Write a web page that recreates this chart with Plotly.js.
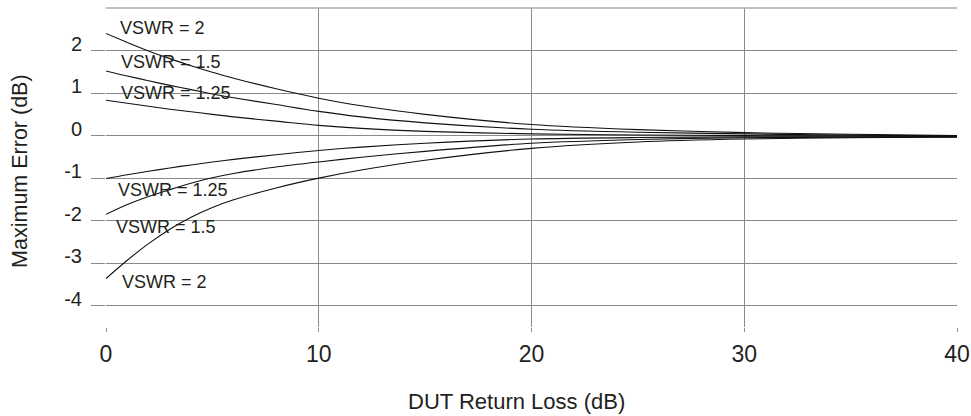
<!DOCTYPE html>
<html>
<head>
<meta charset="utf-8">
<script src="https://cdn.plot.ly/plotly-3.0.1.min.js"></script>
<style>
  html, body { margin: 0; padding: 0; background: #ffffff; }
  #chart { width: 971px; height: 416px; }
</style>
</head>
<body>
<div id="chart"></div>
<script>
// DUT return loss (dB)
const returnLoss = [0, 1, 2, 3, 4, 5, 6, 8, 10, 12, 15, 20, 25, 30, 35, 40];

// Maximum error (dB)
const vswr2Upper    = [2.40, 2.19, 1.99, 1.81, 1.64, 1.49, 1.35, 1.10, 0.88, 0.70, 0.50, 0.26, 0.14, 0.07, 0.03, 0.00];
const vswr15Upper   = [1.52, 1.40, 1.29, 1.18, 1.08, 0.98, 0.89, 0.73, 0.57, 0.44, 0.30, 0.15, 0.08, 0.04, 0.01, -0.01];
const vswr125Upper  = [0.83, 0.76, 0.69, 0.62, 0.56, 0.50, 0.44, 0.34, 0.24, 0.17, 0.10, 0.04, 0.015, 0.00, -0.01, -0.02];
const vswr125Lower  = [-1.01, -0.92, -0.84, -0.76, -0.69, -0.62, -0.56, -0.45, -0.35, -0.27, -0.18, -0.08, -0.045, -0.03, -0.03, -0.03];
const vswr15Lower   = [-1.85, -1.62, -1.43, -1.27, -1.12, -0.99, -0.89, -0.74, -0.62, -0.51, -0.37, -0.18, -0.09, -0.05, -0.04, -0.03];
const vswr2Lower    = [-3.36, -2.93, -2.54, -2.20, -1.92, -1.69, -1.51, -1.23, -1.00, -0.81, -0.58, -0.30, -0.15, -0.08, -0.05, -0.03];

const seriesNames = ["VSWR = 2", "VSWR = 1.5", "VSWR = 1.25", "VSWR = 1.25", "VSWR = 1.5", "VSWR = 2"];
const seriesValues = [vswr2Upper, vswr15Upper, vswr125Upper, vswr125Lower, vswr15Lower, vswr2Lower];

// Curve labels
const labelTexts = ["VSWR = 2", "VSWR = 1.5", "VSWR = 1.25", "VSWR = 1.25", "VSWR = 1.5", "VSWR = 2"];
const labelX = [0.55, 0.6, 0.6, 0.45, 0.37, 0.68];
const labelY = [2.54, 1.74, 0.99, -1.29, -2.15, -3.44];

// Axis ticks
const xTickVals = [0, 10, 20, 30, 40];
const xTickText = ["0", "10", "20", "30", "40"];
const yTickVals = [-4, -3, -2, -1, 0, 1, 2];
const yTickText = ["-4", "-3", "-2", "-1", "0", "1", "2"];

const FONT = "Liberation Sans, Arial, Helvetica, sans-serif";
const TEXT = "#231f20";
const GRID = "#8a8a8a";

const traces = seriesValues.map((vals, i) => ({
  type: "scatter",
  mode: "lines",
  name: seriesNames[i],
  x: returnLoss,
  y: vals,
  line: { color: "#111111", width: 1.1, shape: "spline", smoothing: 0.8 },
  hoverinfo: "skip"
}));

const annotations = labelTexts.map((t, i) => ({
  x: labelX[i], y: labelY[i], xref: "x", yref: "y",
  text: t, showarrow: false, xanchor: "left", yanchor: "middle",
  font: { family: FONT, size: 18, color: TEXT }
}));

annotations.push({
  xref: "paper", yref: "paper", x: -0.102, y: 0.49,
  text: "Maximum Error (dB)", textangle: -90, showarrow: false,
  xanchor: "center", yanchor: "middle",
  font: { family: FONT, size: 21.5, color: TEXT }
});
annotations.push({
  xref: "paper", yref: "paper", x: 0.482, y: -0.235,
  text: "DUT Return Loss (dB)", showarrow: false,
  xanchor: "center", yanchor: "middle",
  font: { family: FONT, size: 22, color: TEXT }
});

const layout = {
  width: 971, height: 416,
  margin: { l: 106, r: 14, t: 8, b: 89, pad: 0 },
  paper_bgcolor: "#ffffff", plot_bgcolor: "#ffffff",
  showlegend: false,
  xaxis: {
    range: [0, 40], tickvals: xTickVals, ticktext: xTickText,
    showgrid: true, gridcolor: GRID, gridwidth: 1,
    zeroline: false, showline: false,
    ticks: "outside", ticklen: 4, tickcolor: GRID, tickwidth: 1,
    ticklabelstandoff: 2,
    tickfont: { family: FONT, size: 23, color: TEXT }
  },
  yaxis: {
    range: [-4.5, 3], tickvals: yTickVals, ticktext: yTickText,
    showgrid: true, gridcolor: GRID, gridwidth: 1,
    zeroline: false, showline: false,
    ticks: "outside", ticklen: 14, tickcolor: GRID, tickwidth: 1,
    ticklabelstandoff: 5, ticklabelshift: -7,
    tickfont: { family: FONT, size: 20, color: TEXT }
  },
  shapes: [{
    type: "line", xref: "paper", yref: "paper", x0: 0, x1: 1, y0: 1, y1: 1,
    line: { color: "#aaaaaa", width: 1.5 }
  }],
  annotations: annotations
};

Plotly.newPlot("chart", traces, layout, { staticPlot: true, displayModeBar: false });
</script>
</body>
</html>
